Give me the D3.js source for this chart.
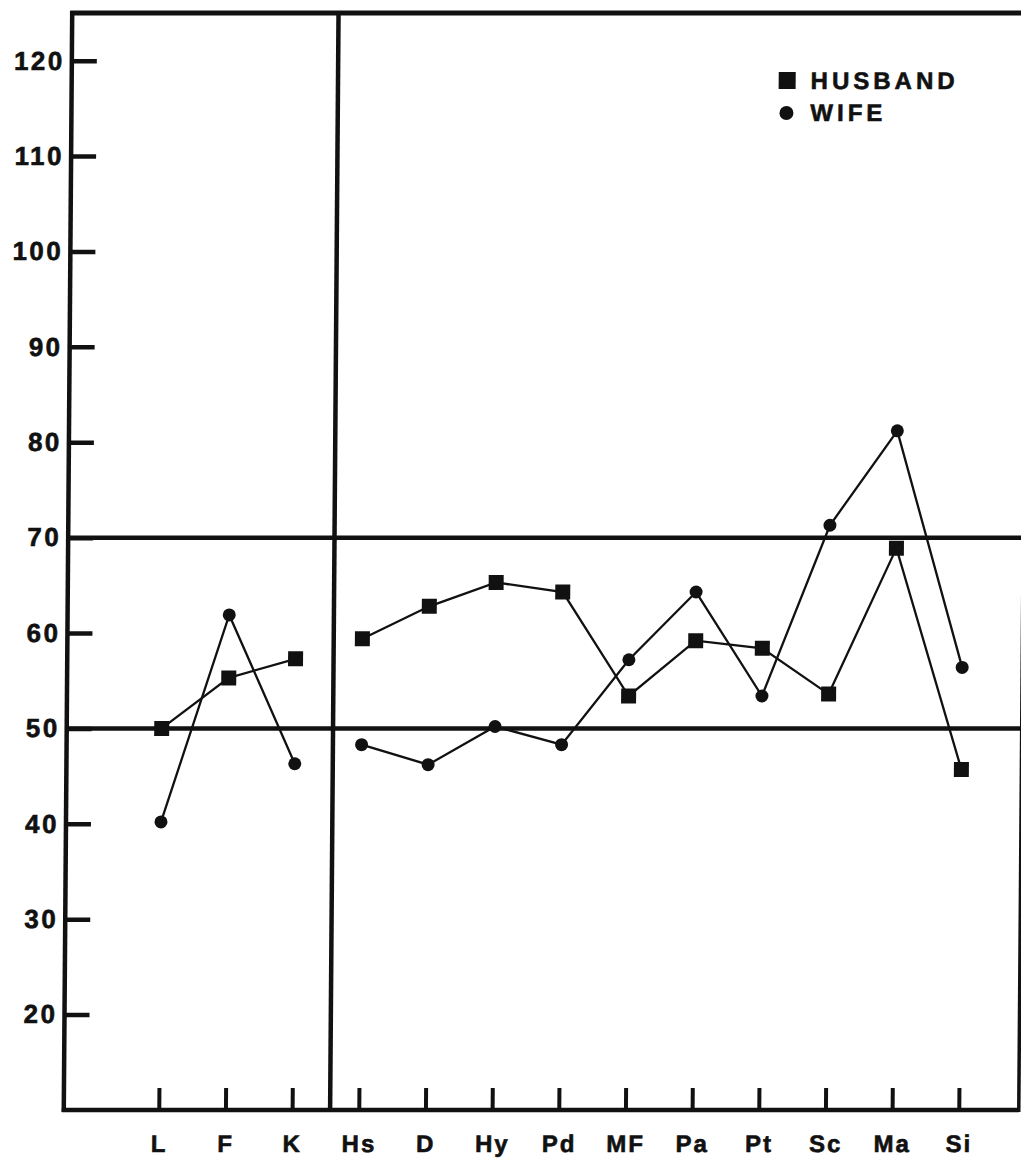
<!DOCTYPE html>
<html>
<head>
<meta charset="utf-8">
<script src="https://cdn.jsdelivr.net/npm/d3@7"></script>
<style>
  html, body { margin: 0; padding: 0; background: #fff; }
  svg { display: block; }
  text { font-family: "Liberation Sans", Arial, Helvetica, sans-serif; font-weight: bold; fill: #111; }
</style>
</head>
<body>
<svg id="chart" width="1021" height="1158"></svg>
<script>
const categories = ["L", "F", "K", "Hs", "D", "Hy", "Pd", "MF", "Pa", "Pt", "Sc", "Ma", "Si"];
const husband = [50.0, 55.3, 57.3, 59.4, 62.8, 65.3, 64.3, 53.4, 59.2, 58.4, 53.6, 68.9, 45.7];
const wife    = [40.2, 61.9, 46.3, 48.3, 46.2, 50.2, 48.3, 57.2, 64.3, 53.4, 71.3, 81.2, 56.4];
const yTicks = [20, 30, 40, 50, 60, 70, 80, 90, 100, 110, 120];
const referenceLines = [50, 70];
const segments = [["L", "K"], ["Hs", "Si"]];
const legendItems = ["HUSBAND", "WIFE"];

(function () {
const plotLeft = 68, plotRight = 1023, plotTop = 13, plotBottom = 1110;
const ink = "#111";

const svg = d3.select("#chart");
const g = svg.append("g")
  .attr("transform", "translate(0,560) skewX(-0.44) translate(0,-560)");

const x = d3.scalePoint(categories, [163, 963]);
const y = d3.scaleLinear([10, 125], [plotBottom, plotTop]);
const step = x.step();

// frame
g.append("line").attr("x1", plotLeft).attr("x2", plotLeft).attr("y1", plotTop - 2).attr("y2", plotBottom + 2)
  .attr("stroke", ink).attr("stroke-width", 4.5);
g.append("line").attr("x1", plotLeft - 2).attr("x2", plotRight + 10).attr("y1", plotTop).attr("y2", plotTop)
  .attr("stroke", ink).attr("stroke-width", 5);
g.append("line").attr("x1", plotLeft - 2).attr("x2", plotRight).attr("y1", plotBottom).attr("y2", plotBottom)
  .attr("stroke", ink).attr("stroke-width", 4.5);
g.append("line").attr("x1", plotRight).attr("x2", plotRight).attr("y1", plotTop).attr("y2", plotBottom + 2)
  .attr("stroke", ink).attr("stroke-width", 3.5);

// divider between validity and clinical scales
const divX = x("K") + step * 0.57;
g.append("line").attr("x1", divX).attr("x2", divX).attr("y1", plotTop).attr("y2", plotBottom)
  .attr("stroke", ink).attr("stroke-width", 4.5);

// reference lines
g.selectAll("line.ref").data(referenceLines).join("line").attr("class", "ref")
  .attr("x1", plotLeft).attr("x2", plotRight + 10)
  .attr("y1", d => y(d)).attr("y2", d => y(d))
  .attr("stroke", ink).attr("stroke-width", 4.5);

// y axis
const yAxis = d3.axisLeft(y).tickValues(yTicks).tickSizeInner(-25).tickSizeOuter(0).tickPadding(7);
const ya = g.append("g").attr("transform", `translate(${plotLeft},0)`).call(yAxis);
ya.select(".domain").remove();
ya.selectAll(".tick line").attr("stroke", ink).attr("stroke-width", 4.5);
ya.selectAll(".tick text").attr("font-size", 26).attr("letter-spacing", 2.5).attr("fill", ink)
  .attr("stroke", ink).attr("stroke-width", 0.6)
  .style("font-family", '"Liberation Sans", Arial, sans-serif').style("font-weight", "bold");

// x axis
const xAxis = d3.axisBottom(x).tickSizeInner(-22).tickSizeOuter(0).tickPadding(25);
const xa = g.append("g").attr("transform", `translate(0,${plotBottom})`).call(xAxis);
xa.select(".domain").remove();
xa.selectAll(".tick line").attr("stroke", ink).attr("stroke-width", 4);
xa.selectAll(".tick text").attr("font-size", 24).attr("letter-spacing", 2).attr("fill", ink)
  .attr("stroke", ink).attr("stroke-width", 0.6)
  .style("font-family", '"Liberation Sans", Arial, sans-serif').style("font-weight", "bold");

// series
const line = d3.line().x(d => x(d.c)).y(d => y(d.v));
function drawSeries(values, shape) {
  const pts = categories.map((c, i) => ({ c, v: values[i], i }));
  segments.forEach(([a, b]) => {
    const i0 = categories.indexOf(a), i1 = categories.indexOf(b);
    g.append("path").datum(pts.slice(i0, i1 + 1)).attr("d", line)
      .attr("fill", "none").attr("stroke", ink).attr("stroke-width", 2.3);
  });
  if (shape === "square") {
    g.selectAll(null).data(pts).join("rect")
      .attr("x", d => x(d.c) - 7.5).attr("y", d => y(d.v) - 7.5)
      .attr("width", 15).attr("height", 15).attr("fill", ink);
  } else {
    g.selectAll(null).data(pts).join("circle")
      .attr("cx", d => x(d.c)).attr("cy", d => y(d.v)).attr("r", 6.5).attr("fill", ink);
  }
}
drawSeries(husband, "square");
drawSeries(wife, "circle");

// legend
const lg = g.append("g");
lg.append("rect").attr("x", 775).attr("y", 72).attr("width", 17).attr("height", 17).attr("fill", ink);
lg.append("circle").attr("cx", 783).attr("cy", 113).attr("r", 7).attr("fill", ink);
lg.selectAll("text").data(legendItems).join("text")
  .attr("x", 807).attr("y", (d, i) => 89 + i * 32)
  .attr("font-size", 24).attr("letter-spacing", 4).attr("stroke", ink).attr("stroke-width", 0.6)
  .text(d => d);
})();
</script>
</body>
</html>
